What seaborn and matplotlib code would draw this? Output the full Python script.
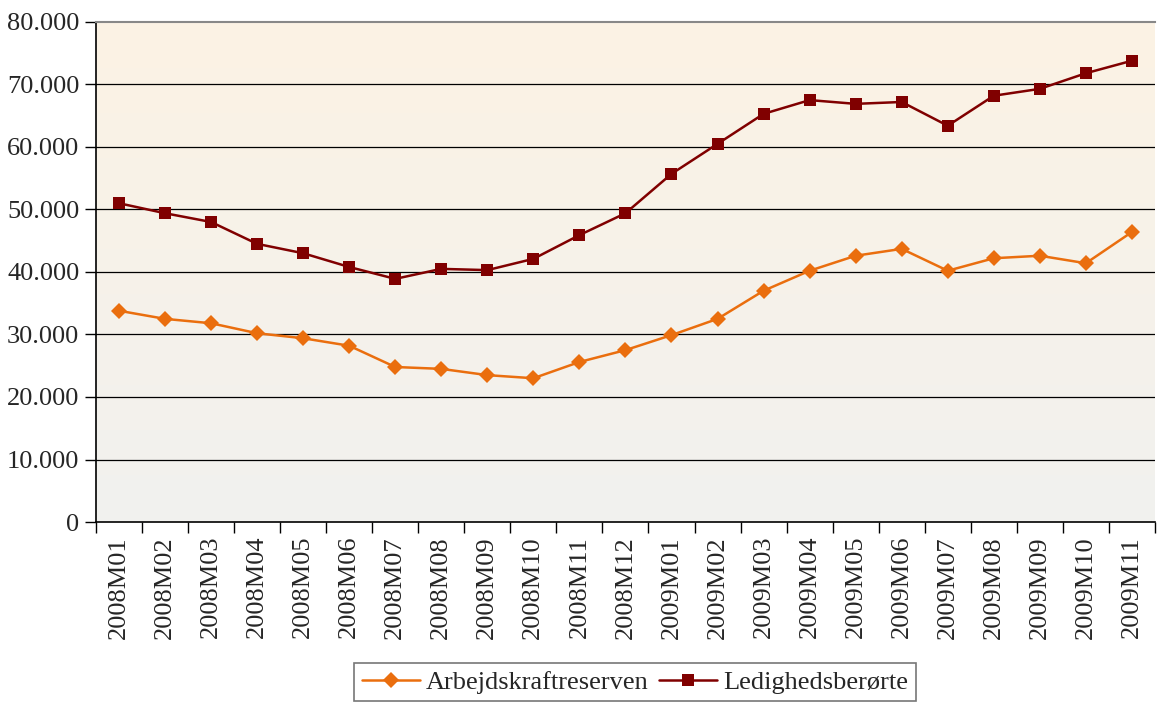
import numpy as np
import pandas as pd
import matplotlib
matplotlib.use("Agg")
import matplotlib.pyplot as plt
import seaborn as sns

months = ["2008M01", "2008M02", "2008M03", "2008M04", "2008M05", "2008M06",
          "2008M07", "2008M08", "2008M09", "2008M10", "2008M11", "2008M12",
          "2009M01", "2009M02", "2009M03", "2009M04", "2009M05", "2009M06",
          "2009M07", "2009M08", "2009M09", "2009M10", "2009M11"]
arbejdskraftreserven = [33800, 32500, 31800, 30200, 29400, 28200, 24800, 24500,
                        23500, 23000, 25600, 27500, 29900, 32500, 37000, 40200,
                        42600, 43700, 40200, 42200, 42600, 41400, 46400]
ledighedsberoerte = [51000, 49400, 48000, 44500, 43000, 40800, 38900, 40500,
                     40300, 42100, 45900, 49400, 55700, 60500, 65300, 67500,
                     66900, 67200, 63400, 68200, 69300, 71800, 73800]

sns.set_style("white")
plt.rcParams['font.family'] = ['Liberation Serif', 'DejaVu Serif']

fig = plt.figure(figsize=(11.59, 7.02), dpi=100)
ax = fig.add_axes([0.0828, 0.2564, 0.9137, 0.7123])

# gradient background: grey at bottom, light peach at top
grad = np.linspace(0, 1, 256).reshape(-1, 1)
bottom_c = np.array([241, 241, 239]) / 255
top_c = np.array([252, 243, 228]) / 255
img = bottom_c + grad[..., None] * (top_c - bottom_c)
ax.imshow(img, extent=[0, 1, 0, 1], transform=ax.transAxes, origin="lower",
          aspect="auto", zorder=0)

x = np.arange(len(months))
sns.lineplot(x=x, y=arbejdskraftreserven, ax=ax, color="#EA6E0E", marker="D",
             markersize=8, markeredgewidth=0, linewidth=1.8,
             label="Arbejdskraftreserven", zorder=3)
sns.lineplot(x=x, y=ledighedsberoerte, ax=ax, color="#800000", marker="s",
             markersize=8.5, markeredgewidth=0, linewidth=1.8,
             label="Ledighedsberørte", zorder=3)

ax.set_xlim(-0.5, len(months) - 0.5)
ax.set_ylim(0, 80000)
yt = np.arange(0, 80001, 10000)
ax.set_yticks(yt)
ax.set_yticklabels([f"{v:,.0f}".replace(",", ".") for v in yt], fontsize=19)
for v in yt[1:-1]:
    ax.axhline(v, color="black", linewidth=0.9, zorder=1)

ax.set_xticks(x)
ax.set_xticklabels(months, rotation=90, fontsize=19)
ax.set_xticks(np.arange(-0.5, len(months), 1), minor=True)
ax.tick_params(axis="x", which="major", length=0, pad=10)
ax.tick_params(axis="x", which="minor", length=8, width=1, color="black",
               direction="out", bottom=True)
ax.tick_params(axis="y", length=8, width=1, color="black", direction="out",
               left=True, pad=4)
ax.grid(False)

for s in ["left", "bottom"]:
    ax.spines[s].set_color("black")
    ax.spines[s].set_linewidth(1.2)
ax.spines["right"].set_visible(False)
ax.spines["top"].set_color("#888888")
ax.spines["top"].set_linewidth(1.5)

ax.set_xlabel("")
ax.set_ylabel("")
leg = ax.legend(loc="upper center", bbox_to_anchor=(0.509, -0.282), ncol=2,
                fontsize=19, frameon=True, fancybox=False, edgecolor="#555555",
                handlelength=2.2, handletextpad=0.23, columnspacing=0.4,
                borderpad=0.28, borderaxespad=0)
leg.get_frame().set_linewidth(1.2)

fig.savefig("out.png", dpi=100, facecolor="white")
